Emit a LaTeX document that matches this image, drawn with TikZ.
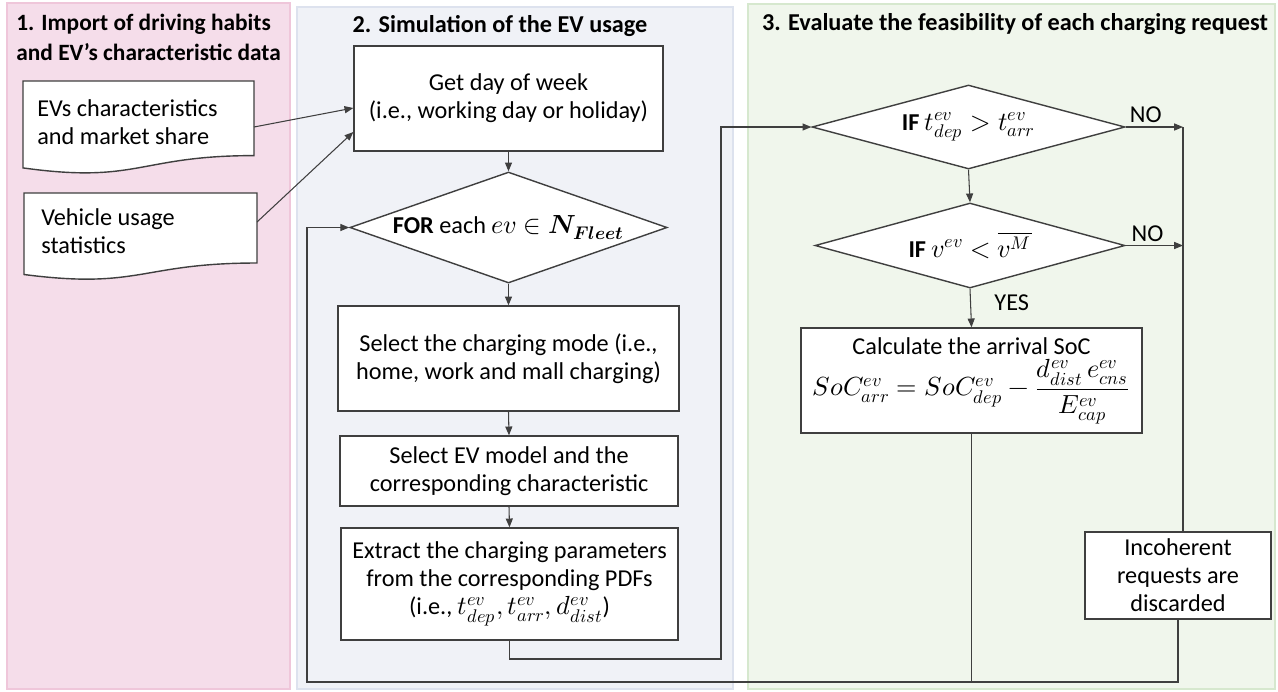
\documentclass[tikz,border=0pt]{standalone}
\usepackage{fontspec}
\usepackage{amsmath}
\usepackage{unicode-math}
\setmainfont{Carlito}
\setmathfont{Latin Modern Math}[Scale=1.08]
\usetikzlibrary{arrows.meta,shapes.geometric,calc}

\definecolor{pinkfill}{HTML}{F5DDEA}
\definecolor{pinkline}{HTML}{EFC6DA}
\definecolor{bluefill}{HTML}{F0F2F7}
\definecolor{blueline}{HTML}{DDE2EE}
\definecolor{greenfill}{HTML}{F0F6EC}
\definecolor{greenline}{HTML}{D6E8CE}
\definecolor{linegray}{HTML}{3F3F3F}

\newcommand{\bodyfont}{\fontsize{13.8}{16}\selectfont}

\tikzset{
  box/.style={draw=linegray, line width=0.8pt, fill=white, align=center, inner sep=2pt},
  cond/.style={diamond, draw=linegray, line width=0.8pt, fill=white, inner sep=0pt, aspect=3.5},
  flow/.style={draw=linegray, line width=0.6pt},
  arr/.style={flow, -{Triangle[length=5pt,width=4pt]}},
  paneltitle/.style={font=\fontsize{13.8}{17}\selectfont\bfseries, align=left, inner sep=0pt},
}

\begin{document}
\begin{tikzpicture}[x=0.02cm, y=-0.02cm, font=\bodyfont]

\useasboundingbox (0,0) rectangle (1278,691);

% === Panels ===
\draw[fill=pinkfill, draw=pinkline, line width=0.6pt] (7,3) rectangle (290,689);
\draw[fill=bluefill, draw=blueline, line width=0.6pt] (297,7) rectangle (733,689);
\draw[fill=greenfill, draw=greenline, line width=0.6pt] (748,4) rectangle (1275,689);

\node[paneltitle, anchor=west, font=\fontsize{13.3}{17}\selectfont\bfseries] (t1) at (16,37)
  {1. Import of driving habits\\and EV’s characteristic data};
\node[paneltitle] (t2) at (500,26) {2. Simulation of the EV usage};
\node[paneltitle] (t3) at (1015,24) {3. Evaluate the feasibility of each charging request};

% === Left: input documents (wavy bottom) ===
\draw[fill=white, draw=linegray, line width=0.8pt]
  (23,81) -- (254,81) -- (254,155.6)
  .. controls (138.5,155.6) and (138.5,184) .. (23,167.9) -- cycle;
\node[anchor=west, align=left, inner sep=0pt] (doc1) at (37,122)
  {EVs characteristics\\and market share};
\coordinate (doc1out) at (254,127);

\draw[fill=white, draw=linegray, line width=0.8pt]
  (24,193) -- (257,193) -- (257,263)
  .. controls (140.5,263) and (140.5,289.6) .. (24,274.5) -- cycle;
\node[anchor=west, align=left, inner sep=0pt] (doc2) at (41,231)
  {Vehicle usage\\statistics};
\coordinate (doc2out) at (257,222);

% === Middle: simulation steps ===
\node[box, minimum width=6.18cm, minimum height=2.1cm] (get) at (508.5,98.5)
  {Get day of week\\(i.e., working day or holiday)};
\node[cond, minimum width=5.54cm, minimum height=2.22cm] (for) at (508.5,227.5)
  {\textbf{FOR} each $ev \in \symbfit{N}_{\symbfit{Fleet}}$};
\node[box, minimum width=6.82cm, minimum height=2.1cm] (mode) at (508.5,358.5)
  {Select the charging mode (i.e.,\\home, work and mall charging)};
\node[box, minimum width=6.76cm, minimum height=1.4cm] (model) at (509,471)
  {Select EV model and the\\corresponding characteristic};
\node[box, minimum width=6.74cm, minimum height=2.24cm] (extract) at (509.5,584)
  {Extract the charging parameters\\from the corresponding PDFs\\(i.e., $t^{ev}_{dep}, t^{ev}_{arr}, d^{ev}_{dist}$)};

% === Right: feasibility checks ===
\node[cond, minimum width=6.26cm, minimum height=1.68cm] (if1) at (968.5,127)
  {\textbf{IF} $t^{ev}_{dep} > t^{ev}_{arr}$};
\node[cond, minimum width=6.2cm, minimum height=1.7cm] (if2) at (970,245.5)
  {\textbf{IF} $v^{ev} < \overline{v^{M}}$};
\node[box, minimum width=6.82cm, minimum height=2.1cm] (calc) at (971.5,380.5)
  {Calculate the arrival SoC\\[2pt]
   $SoC^{ev}_{arr} = SoC^{ev}_{dep} - \dfrac{d^{ev}_{dist}\,e^{ev}_{cns}}{E^{ev}_{cap}}$};
\node[box, minimum width=3.72cm, minimum height=1.74cm] (discard) at (1178,575.5)
  {Incoherent\\requests are\\discarded};

% === Connectors ===
\coordinate (rail) at (1183,0);
\coordinate (loopA) at (721,659);
\coordinate (loopB) at (307,682);

\draw[arr] (doc1out) -- ([yshift=-0.19cm]get.west);
\draw[arr] (doc2out) -- ([yshift=-0.67cm]get.west);
\draw[arr] (get.south) -- (for.north);
\draw[arr] (for.south) -- (mode.north);
\draw[arr] (mode.south) -- (model.north);
\draw[arr] (model.south) -- (extract.north);
\draw[arr] (extract.south) |- (loopA) |- (if1.west);

\draw[arr] (if1.south) -- (if2.north);
\draw[arr] (if1.east) -- node[above, pos=0.35, inner sep=2pt] {NO} (if1.east -| rail);
\draw[arr] (if2.east) -- node[above, pos=0.38, inner sep=2pt] {NO} (if2.east -| rail);
\draw[arr] (if2.south) -- node[right, pos=0.35, xshift=10pt] {YES} (calc.north);
\draw[flow] (if1.east -| rail) -- (rail |- discard.north);

% loop back to the FOR condition
\draw[arr] (discard.south) |- (loopB) |- (for.west);
\draw[flow] (calc.south) -- (calc.south |- loopB);

\end{tikzpicture}
\end{document}
